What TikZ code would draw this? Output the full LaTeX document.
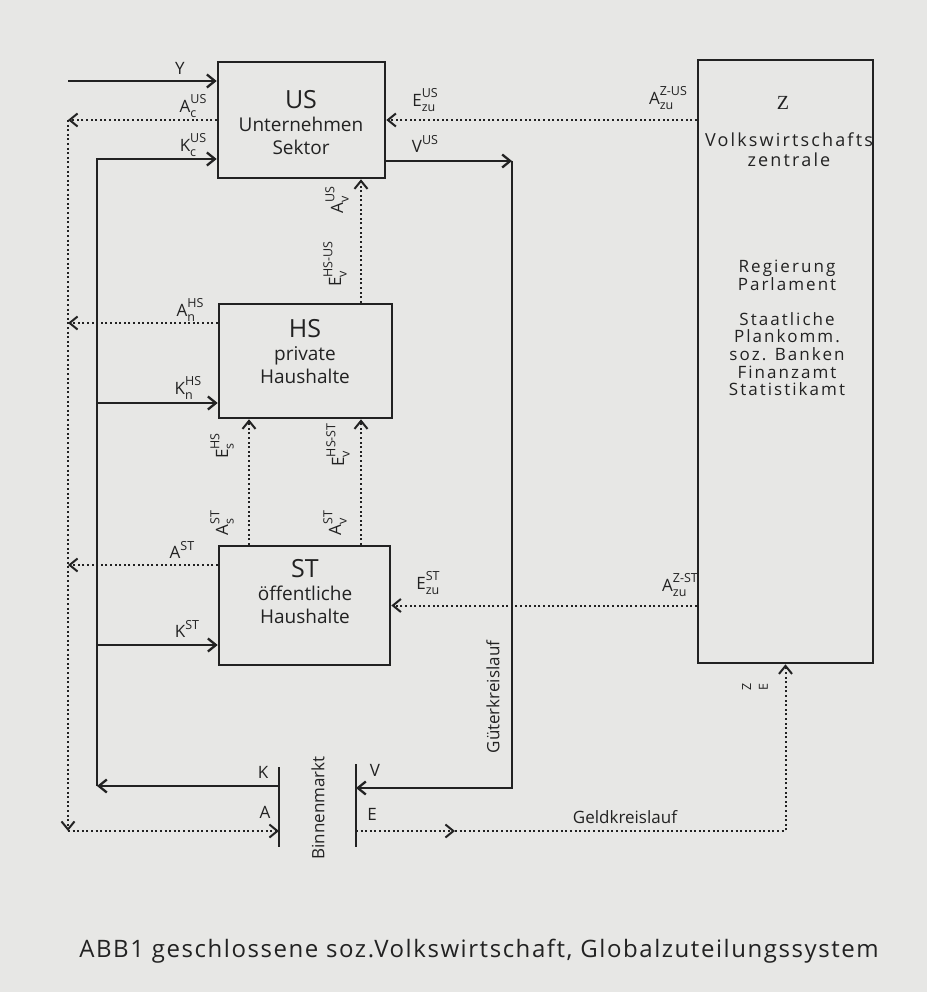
\documentclass[tikz,border=0pt]{standalone}
\usepackage{fontspec}
\setmainfont{Open Sans}
\newfontfamily\zserif{Liberation Serif}
\newfontfamily\zspaced[LetterSpace=12]{Open Sans}
\newfontfamily\capspaced[LetterSpace=6.5]{Open Sans}
\usetikzlibrary{arrows.meta, positioning}
\definecolor{paper}{HTML}{E7E7E5}
\definecolor{ink}{HTML}{222222}
\newcommand{\flw}[3]{#1\rlap{\raisebox{-0.6ex}{\fontsize{12.5}{12}\selectfont #2}}\raisebox{0.95ex}{\fontsize{12.5}{12}\selectfont #3}}
\tikzset{
	sektor/.style={
			draw=ink,
			line width=2.6pt,
			inner sep=0pt
		},
	sektortext/.style={
			align=center,
			text=ink,
			font=\fontsize{19}{23}\selectfont,
			inner sep=0pt
		},
	gutflow/.style={
			draw=ink,
			line width=2.3pt
		},
	geldflow/.style={
			draw=ink,
			line width=2pt,
			dash pattern=on 2pt off 2.6pt
		},
	flowlabel/.style={
			text=ink,
			font=\fontsize{17}{18}\selectfont,
			inner sep=0pt
		}
}

\begin{document}
\begin{tikzpicture}[x=1pt, y=-1pt, >={Straight Barb[length=8pt,width=13pt]}]
\fill[paper] (0,0) rectangle (927,992);

% sektoren
\node[sektor, minimum width=167pt, minimum height=116pt] (us) at (301.5,120) {};
\node[sektor, minimum width=173pt, minimum height=114pt] (hs) at (305.5,361) {};
\node[sektor, minimum width=171pt, minimum height=119pt] (st) at (304.5,605.5) {};
\node[sektor, minimum width=175pt, minimum height=603pt] (z) at (785.5,361.5) {};

\node[sektortext] (ustext) at (301,123) {{\fontsize{25}{25}\selectfont US}\\Unternehmen\\Sektor};
\node[sektortext] (hstext) at (305,352) {{\fontsize{25}{25}\selectfont HS}\\private\\Haushalte};
\node[sektortext] (sttext) at (305,592) {{\fontsize{25}{25}\selectfont ST}\\öffentliche\\Haushalte};
\node[sektortext, font=\zserif\fontsize{20}{20}\selectfont] (ztitle) at (783,103) {Z};
\node[sektortext, font=\zspaced\fontsize{18}{20}\selectfont] (ztext) at (789,150) {Volkswirtschafts\\zentrale};
\node[sektortext, font=\zspaced\fontsize{17}{17.6}\selectfont] (zlist) at (787,328) {Regierung\\Parlament\\[17.6pt]Staatliche\\Plankomm.\\soz. Banken\\Finanzamt\\Statistikamt};

% binnenmarkt
\coordinate (bmLtop) at (279,767);
\coordinate (bmLbot) at (279,847);
\coordinate (bmRtop) at (356,764);
\coordinate (bmRbot) at (356,847);
\draw[gutflow] (bmLtop) -- (bmLbot);
\draw[gutflow] (bmRtop) -- (bmRbot);

\coordinate (yIn) at (68,81);
\coordinate (kTop) at (97,159);
\coordinate (kHS) at (97,403);
\coordinate (kST) at (97,645);
\coordinate (kBot) at (97,786);
\coordinate (aTop) at (68,120);
\coordinate (aHS) at (68,323);
\coordinate (aST) at (68,565);
\coordinate (aBot) at (68,831);
\coordinate (vTurn) at (512,161);
\coordinate (vBot) at (512,788);
\coordinate (eMid) at (455,831);
\coordinate (eTurn) at (785.5,831);
\coordinate (colS) at (249,0);
\coordinate (colV) at (361,0);

% gueterkreislauf
\draw[gutflow, ->] (yIn) -- (yIn -| us.west);
\draw[gutflow, ->] (kBot) -- (kTop) -- (kTop -| us.west);
\draw[gutflow, ->] (kHS) -- (kHS -| hs.west);
\draw[gutflow, ->] (kST) -- (kST -| st.west);
\draw[gutflow, ->] (kBot -| bmLtop) -- (kBot);
\draw[gutflow, ->] (us.east |- vTurn) -- (vTurn);
\draw[gutflow, ->] (vTurn) -- (vBot) -- (vBot -| bmRtop);

% geldkreislauf
\draw[geldflow, ->] (us.west) -- (us.west -| aTop);
\draw[geldflow, ->] (aHS -| hs.west) -- (aHS);
\draw[geldflow, ->] (aST -| st.west) -- (aST);
\draw[geldflow, ->] (aTop) -- (aBot);
\draw[geldflow, ->] (aBot) -- (aBot -| bmLtop);
\draw[geldflow, ->] (aBot -| bmRtop) -- (eMid);
\draw[geldflow, ->] (eMid) -- (eTurn) -- (z.south);
\draw[geldflow, ->] (z.west |- us.east) -- (us.east);
\draw[geldflow, ->] (z.west |- st.east) -- (st.east);
\draw[geldflow, ->] (hs.north -| colV) -- (us.south -| colV);
\draw[geldflow, ->] (st.north -| colS) -- (hs.south -| colS);
\draw[geldflow, ->] (st.north -| colV) -- (hs.south -| colV);

% labels
\node[flowlabel] (lY) at (180,68) {Y};
\node[flowlabel] (lAcUS) at (193,106) {\flw{A}{c}{US}};
\node[flowlabel] (lKcUS) at (193,145) {\flw{K}{c}{US}};
\node[flowlabel] (lAnHS) at (190,310) {\flw{A}{n}{HS}};
\node[flowlabel] (lKnHS) at (188,388) {\flw{K}{n}{HS}};
\node[flowlabel] (lAST) at (182,550) {A\raisebox{0.95ex}{\fontsize{12.5}{12}\selectfont ST}};
\node[flowlabel] (lKST) at (187,629) {K\raisebox{0.95ex}{\fontsize{12.5}{12}\selectfont ST}};
\node[flowlabel] (lVUS) at (425,144) {V\raisebox{0.95ex}{\fontsize{12.5}{12}\selectfont US}};
\node[flowlabel] (lEzuUS) at (425,100) {\flw{E}{zu}{US}};
\node[flowlabel] (lAzuZUS) at (668,98) {\flw{A}{zu}{Z-US}};
\node[flowlabel] (lEzuST) at (428,583) {\flw{E}{zu}{ST}};
\node[flowlabel] (lAzuZST) at (680,585) {\flw{A}{zu}{Z-ST}};
\node[flowlabel, rotate=90] (lAvUS) at (337,200) {\flw{A}{v}{US}};
\node[flowlabel, rotate=90] (lEvHSUS) at (335,264) {\flw{E}{v}{HS-US}};
\node[flowlabel, rotate=90] (lEsHS) at (222,446) {\flw{E}{s}{HS}};
\node[flowlabel, rotate=90] (lEvHSST) at (338,445) {\flw{E}{v}{HS-ST}};
\node[flowlabel, rotate=90] (lAsST) at (222,523) {\flw{A}{s}{ST}};
\node[flowlabel, rotate=90] (lAvST) at (335,523) {\flw{A}{v}{ST}};
\node[flowlabel, rotate=90, font=\fontsize{20}{20}\selectfont] (lEZ) at (755,687) {\flw{}{E}{Z}};
\node[flowlabel] (lK) at (263,772) {K};
\node[flowlabel] (lA) at (265,812) {A};
\node[flowlabel] (lV) at (375,770) {V};
\node[flowlabel] (lE) at (372,814) {E};
\node[flowlabel, rotate=90] (lBinnen) at (318,808) {Binnenmarkt};
\node[flowlabel, rotate=90] (lGueter) at (493,697) {Güterkreislauf};
\node[flowlabel] (lGeld) at (625,817) {Geldkreislauf};

\node[flowlabel, font=\capspaced\fontsize{24}{24}\selectfont] (caption) at (479,951) {ABB1 geschlossene soz.Volkswirtschaft, Globalzuteilungssystem};
\end{tikzpicture}
\end{document}
